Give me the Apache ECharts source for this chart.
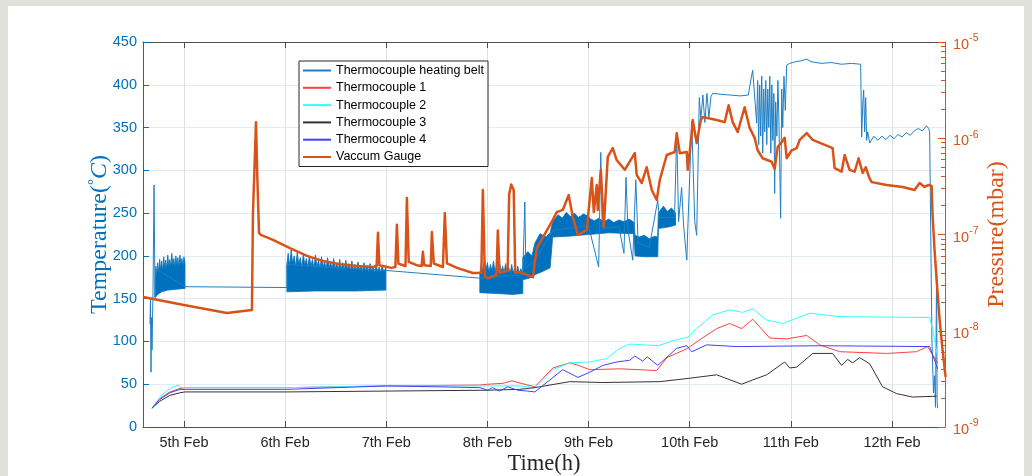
<!DOCTYPE html>
<html><head><meta charset="utf-8">
<script src="https://cdn.jsdelivr.net/npm/echarts@6/dist/echarts.min.js"></script>
<style>
html,body{margin:0;padding:0;background:#e1e1dc;width:1032px;height:476px;overflow:hidden}
#paper{position:absolute;left:8px;top:6px;width:1016px;height:470px;background:#fff}
#chart{position:absolute;left:0;top:0;width:1032px;height:476px}
</style></head><body><div id="paper"></div><div id="chart"></div>
<script>
// ---- tick labels ----
const dayTicks = [5, 6, 7, 8, 9, 10, 11, 12];
const dayLabels = ['5th Feb', '6th Feb', '7th Feb', '8th Feb', '9th Feb', '10th Feb', '11th Feb', '12th Feb'];
const seriesNames = ['Thermocouple heating belt', 'Thermocouple 1', 'Thermocouple 2', 'Thermocouple 3', 'Thermocouple 4', 'Vaccum Gauge'];

// ---- Thermocouple heating belt (day of Feb, °C) ----
const beltLine = [[4.664,120],[4.669,150],[4.674,64],[4.679,128],[4.684,90],[4.694,158],[4.704,283],[4.714,152],[4.72,185],[5.01,164],[6.018,163],[6.018,190],[6.996,183],[7.925,174],[8.35,178],[8.37,263],[8.38,185],[8.50,200],[8.65,230],[9.00,235],[9.10,187],[9.121,321],[9.135,232],[9.30,234],[9.35,203],[9.37,292],[9.39,230],[9.437,195],[9.467,289],[9.49,215],[9.60,210],[9.684,265],[9.70,245],[9.85,245],[9.872,344],[9.89,240],[9.92,280],[9.94,235],[9.971,195],[9.981,232],[10.02,357],[10.05,240],[10.069,224],[10.095,385],[10.11,360],[10.13,388],[10.15,356],[10.17,390],[10.19,362],[10.21,386],[10.227,390],[10.30,389],[10.40,388],[10.50,387],[10.58,388],[10.593,398],[10.623,417],[10.642,419],[10.662,355],[10.672,405],[10.682,330],[10.692,400],[10.702,340],[10.712,410],[10.722,320],[10.732,395],[10.742,345],[10.752,405],[10.762,330],[10.772,395],[10.782,350],[10.792,410],[10.802,320],[10.812,400],[10.822,335],[10.832,390],[10.840,273],[10.850,380],[10.862,340],[10.872,405],[10.882,360],[10.899,244],[10.910,395],[10.920,350],[10.932,410],[10.945,370],[10.959,423],[10.988,425],[11.05,427],[11.10,428],[11.157,430],[11.20,427],[11.30,425],[11.40,426],[11.50,424],[11.60,425],[11.69,424],[11.700,339],[11.712,380],[11.720,394],[11.730,345],[11.740,385],[11.749,335],[11.76,345],[11.78,332],[11.82,340],[11.86,335],[11.90,340],[11.94,336],[11.98,341],[12.02,337],[12.06,342],[12.10,339],[12.14,344],[12.18,341],[12.22,346],[12.26,349],[12.30,346],[12.34,352],[12.362,349],[12.372,345],[12.395,100],[12.41,40],[12.42,60],[12.43,23],[12.441,180],[12.446,30],[12.45,22]];
// dense noisy blocks of the heating-belt trace: upper and lower edges
const beltBandATop = [[4.714,170],[4.722,188],[4.730,176],[4.740,192],[4.750,180],[4.760,196],[4.770,183],[4.780,194],[4.790,182],[4.800,199],[4.810,185],[4.820,195],[4.830,184],[4.840,201],[4.850,187],[4.860,196],[4.870,186],[4.880,203],[4.890,188],[4.900,197],[4.910,186],[4.920,200],[4.930,189],[4.940,198],[4.950,187],[4.960,201],[4.970,190],[4.980,197],[4.990,188],[5.000,199],[5.010,192]];
const beltBandABot = [[4.714,151],[4.74,155],[4.78,158],[4.84,160],[4.92,161],[5.01,162]];
const beltBandBTop = [[6.018,190],[6.03,203],[6.045,188],[6.06,207],[6.075,191],[6.09,200],[6.105,187],[6.12,204],[6.135,190],[6.15,198],[6.165,186],[6.18,202],[6.195,189],[6.21,197],[6.225,186],[6.24,200],[6.255,188],[6.27,196],[6.285,185],[6.30,201],[6.315,187],[6.33,195],[6.345,185],[6.36,199],[6.375,186],[6.39,194],[6.405,184],[6.42,198],[6.435,186],[6.45,193],[6.465,184],[6.48,197],[6.495,185],[6.51,192],[6.525,183],[6.54,196],[6.555,184],[6.57,192],[6.585,183],[6.60,195],[6.615,184],[6.63,191],[6.645,182],[6.66,194],[6.675,183],[6.69,190],[6.705,182],[6.72,193],[6.735,183],[6.75,189],[6.765,181],[6.78,192],[6.795,182],[6.81,189],[6.825,181],[6.84,191],[6.855,182],[6.87,188],[6.885,180],[6.90,190],[6.915,181],[6.93,187],[6.945,180],[6.96,189],[6.975,181],[6.996,186]];
const beltBandBBot = [[6.018,158],[6.3,159],[6.7,159],[6.996,160]];
const beltBandCTop = [[7.925,180],[7.94,190],[7.955,182],[7.97,196],[7.985,183],[8.00,192],[8.015,181],[8.03,190],[8.045,182],[8.06,194],[8.075,181],[8.09,189],[8.105,180],[8.12,192],[8.135,181],[8.15,188],[8.165,180],[8.18,191],[8.195,181],[8.21,187],[8.225,179],[8.24,190],[8.255,180],[8.27,186],[8.285,178],[8.30,188],[8.315,179],[8.33,185],[8.35,180]];
const beltBandCBot = [[7.925,157],[8.1,156],[8.25,155],[8.35,156]];
const beltBandDTop = [[8.35,198],[8.40,205],[8.44,200],[8.47,215],[8.52,226],[8.58,222],[8.62,227],[8.645,240],[8.70,248],[8.74,244],[8.78,251],[8.82,246],[8.86,250],[8.90,245],[8.95,249],[9.00,246],[9.02,243],[9.06,241],[9.10,244],[9.15,240],[9.20,243],[9.25,239],[9.30,242],[9.35,240],[9.40,243],[9.45,239],[9.46,224],[9.50,222],[9.55,224],[9.60,220],[9.65,223],[9.684,222],[9.69,250],[9.74,258],[9.78,252],[9.82,256],[9.86,250]];
const beltBandDBot = [[8.35,172],[8.44,175],[8.47,178],[8.55,182],[8.62,186],[8.645,222],[8.80,223],[9.00,225],[9.20,227],[9.45,226],[9.46,200],[9.55,199],[9.684,199],[9.69,232],[9.80,234],[9.86,236]];

// ---- thermocouples (day of Feb, °C) ----
const tc1 = [[4.684,22],[4.76,33],[4.86,41],[4.961,45],[5.01,46],[6.018,46],[6.996,48],[7.925,49],[8.004,50],[8.15,51],[8.241,54],[8.30,52],[8.469,47],[8.647,69],[8.814,75],[8.90,72],[9.012,67],[9.308,68],[9.674,66],[9.773,81],[9.981,92],[10.099,102],[10.267,115],[10.395,121],[10.514,115],[10.623,126],[10.791,104],[10.959,103],[11.157,107],[11.285,96],[11.483,88],[11.947,86],[12.243,88],[12.352,94],[12.451,75]];
const tc2 = [[4.684,22],[4.76,35],[4.86,45],[4.941,49],[4.961,46],[5.01,46],[6.018,46],[6.996,48],[8.004,48],[8.32,48],[8.469,46],[8.647,67],[8.814,75],[9.012,76],[9.180,80],[9.308,92],[9.407,97],[9.684,95],[9.872,102],[9.981,105],[10.069,115],[10.227,131],[10.395,137],[10.524,134],[10.623,138],[10.761,125],[10.919,121],[11.186,133],[11.483,129],[12.372,128],[12.40,115],[12.451,82]];
const tc3 = [[4.684,22],[4.76,30],[4.86,37],[4.961,40],[5.01,41],[6.018,41],[6.996,42],[8.004,43],[8.32,44],[8.469,46],[8.814,53],[9.141,52],[9.704,53],[10.000,57],[10.267,61],[10.514,50],[10.623,55],[10.761,61],[10.939,76],[10.988,69],[11.058,70],[11.216,86],[11.413,86],[11.502,72],[11.562,79],[11.611,75],[11.680,81],[11.779,74],[11.907,47],[12.046,39],[12.204,35],[12.441,36]];
const tc4 = [[4.684,22],[4.76,32],[4.86,40],[4.961,44],[5.01,44],[6.018,44],[6.996,48],[7.50,47],[7.925,46],[8.004,43],[8.05,46],[8.12,42],[8.20,47],[8.30,43],[8.40,42],[8.469,41],[8.745,67],[8.894,58],[9.012,64],[9.141,72],[9.279,76],[9.407,78],[9.457,83],[9.535,77],[9.58,82],[9.684,72],[9.872,92],[9.971,95],[10.020,88],[10.168,96],[10.465,94],[11.285,95],[12.372,94],[12.451,68]];

// ---- vacuum gauge (day of Feb, mbar) ----
const gauge = [[4.595,2.24e-8],[5.00,1.85e-8],[5.425,1.53e-8],[5.672,1.64e-8],[5.682,1.67e-7],[5.700,6.0e-7],[5.712,1.47e-6],[5.725,4.0e-7],[5.742,1.04e-7],[5.76,9.9e-8],[5.88,8.8e-8],[6.048,7.2e-8],[6.216,6.0e-8],[6.374,5.3e-8],[6.542,4.9e-8],[6.710,4.7e-8],[6.868,4.6e-8],[6.905,4.7e-8],[6.918,1.04e-7],[6.932,4.8e-8],[7.05,4.5e-8],[7.09,4.6e-8],[7.105,1.26e-7],[7.12,5.0e-8],[7.19,4.7e-8],[7.204,2.4e-7],[7.222,5.2e-8],[7.30,4.8e-8],[7.35,4.7e-8],[7.362,6.6e-8],[7.375,4.8e-8],[7.44,4.7e-8],[7.451,1.06e-7],[7.47,5.0e-8],[7.56,4.6e-8],[7.579,1.67e-7],[7.60,5.0e-8],[7.70,4.5e-8],[7.856,3.98e-8],[7.94,4.0e-8],[7.955,2.9e-7],[7.975,3.7e-8],[8.004,3.5e-8],[8.09,3.8e-8],[8.103,1.1e-7],[8.12,4.0e-8],[8.20,4.2e-8],[8.215,2.6e-7],[8.235,3.3e-7],[8.26,2.9e-7],[8.275,4.0e-8],[8.32,4.08e-8],[8.449,3.6e-8],[8.488,7.2e-8],[8.647,1.42e-7],[8.686,1.71e-7],[8.745,1.8e-7],[8.804,2.57e-7],[8.844,1.52e-7],[8.894,9.9e-8],[8.982,1.11e-7],[9.032,3.86e-7],[9.052,1.71e-7],[9.081,3.27e-7],[9.091,1.8e-7],[9.121,4.7e-7],[9.151,1.2e-7],[9.190,6.4e-7],[9.239,7.9e-7],[9.279,5.9e-7],[9.358,4.7e-7],[9.457,7.0e-7],[9.476,4.15e-7],[9.526,3.43e-7],[9.575,5.0e-7],[9.625,2.9e-7],[9.674,2.28e-7],[9.704,3.68e-7],[9.773,6.7e-7],[9.852,7.2e-7],[9.872,1.13e-6],[9.902,7.0e-7],[9.971,7.2e-7],[9.981,4.7e-7],[10.02,1.13e-6],[10.03,1.55e-6],[10.069,8.9e-7],[10.11,1.55e-6],[10.129,1.66e-6],[10.267,1.55e-6],[10.346,1.47e-6],[10.385,2.2e-6],[10.425,1.47e-6],[10.474,1.16e-6],[10.543,2.1e-6],[10.593,1.28e-6],[10.642,1.01e-6],[10.672,7.5e-7],[10.721,6.2e-7],[10.810,5.7e-7],[10.840,4.8e-7],[10.870,8.1e-7],[10.909,9.1e-7],[10.939,1.01e-6],[10.959,6.2e-7],[11.008,7.5e-7],[11.058,7.9e-7],[11.087,9.6e-7],[11.157,1.13e-6],[11.216,9.6e-7],[11.413,7.9e-7],[11.433,4.9e-7],[11.502,4.5e-7],[11.532,6.7e-7],[11.581,4.7e-7],[11.631,4.5e-7],[11.670,6.2e-7],[11.710,4.35e-7],[11.740,5.0e-7],[11.779,3.8e-7],[11.80,3.5e-7],[11.947,3.27e-7],[12.105,3.12e-7],[12.223,2.9e-7],[12.273,3.43e-7],[12.322,3.12e-7],[12.362,3.27e-7],[12.392,3.2e-7],[12.401,1.6e-7],[12.421,6.9e-8],[12.441,3.4e-8],[12.471,1.29e-8],[12.500,6.3e-9],[12.530,3.3e-9]];

const bands = [
  {top: beltBandATop, bot: beltBandABot},
  {top: beltBandBTop, bot: beltBandBBot},
  {top: beltBandCTop, bot: beltBandCBot},
  {top: beltBandDTop, bot: beltBandDBot}
];

const BLUE = '#0072BD', ORANGE = '#D95319', AXC = '#4d4d4d';
const SANS = 'Liberation Sans, Arial, sans-serif';
const SERIF = 'Liberation Serif, Times New Roman, serif';

// minor tick positions on the log axis (log10 of k*10^n)
const minorLog = [];
for (let n = -9; n < -5; n++) for (let k = 2; k <= 9; k++) minorLog.push(n + Math.log10(k));

const noSym = {opacity: 0};
const chart = echarts.init(document.getElementById('chart'), null, {renderer: 'canvas'});
chart.setOption({
  animation: false,
  backgroundColor: 'transparent',
  grid: {left: 143, right: 87, top: 42, bottom: 49, containLabel: false, outerBoundsMode: 'none'},
  legend: {
    data: seriesNames, orient: 'vertical', left: 299, top: 61,
    itemWidth: 28, itemHeight: 12, itemGap: 4.3, padding: [3, 4, 3, 3],
    itemStyle: {opacity: 0},
    backgroundColor: '#fff', borderColor: '#262626', borderWidth: 1,
    textStyle: {fontFamily: SANS, fontSize: 12.5, color: '#000'}
  },
  xAxis: [{
    type: 'value', min: 4.595, max: 12.524, position: 'bottom',
    name: 'Time(h)', nameLocation: 'middle', nameGap: 26, nameMoveOverlap: false,
    nameTextStyle: {fontFamily: SERIF, fontSize: 22.5, color: '#262626'},
    axisLine: {show: true, lineStyle: {color: AXC, width: 1}},
    axisTick: {show: true, inside: true, length: 6, customValues: dayTicks, lineStyle: {color: AXC}},
    axisLabel: {customValues: dayTicks, margin: 8, fontFamily: SANS, fontSize: 14.5, color: '#262626',
      formatter: v => dayLabels[dayTicks.indexOf(Math.round(v))]},
    splitLine: {show: true, lineStyle: {color: '#e1e1e1', width: 1}}
  }, {
    type: 'value', min: 4.595, max: 12.524, position: 'top',
    axisLine: {show: true, lineStyle: {color: AXC, width: 1}},
    axisTick: {show: true, inside: true, length: 6, customValues: dayTicks, lineStyle: {color: AXC}},
    axisLabel: {show: false}, splitLine: {show: false}
  }],
  yAxis: [{
    type: 'value', min: 0, max: 450, interval: 50, position: 'left',
    name: '{t|Temperature(}{d|°}{c|C}{t|)}', nameLocation: 'middle', nameGap: 31, nameRotate: 90, nameMoveOverlap: false,
    nameTextStyle: {color: BLUE, rich: {
      t: {fontFamily: SERIF, fontSize: 24, color: BLUE},
      d: {fontFamily: SERIF, fontSize: 15, color: BLUE, verticalAlign: 'top', padding: [0, 0, 10, 0]},
      c: {fontFamily: SERIF, fontSize: 24, fontStyle: 'italic', color: BLUE}}},
    axisLine: {show: true, lineStyle: {color: BLUE, width: 1}},
    axisTick: {show: true, inside: true, length: 6, lineStyle: {color: BLUE}},
    axisLabel: {margin: 6, fontFamily: SANS, fontSize: 14.5, color: BLUE},
    splitLine: {show: true, lineStyle: {color: '#e2ecf5', width: 1}}
  }, {
    type: 'log', logBase: 10, min: 1e-9, max: 1e-5, splitNumber: 4, position: 'right',
    name: 'Pressure(mbar)', nameLocation: 'middle', nameGap: 40, nameRotate: 90, nameMoveOverlap: false,
    nameTextStyle: {fontFamily: SERIF, fontSize: 24, color: ORANGE},
    axisLine: {show: true, lineStyle: {color: ORANGE, width: 1}},
    axisTick: {show: true, inside: true, length: 7, lineStyle: {color: ORANGE}},
    axisLabel: {margin: 8, color: ORANGE,
      formatter: v => '{b|10}{s|' + Math.round(Math.log10(v)) + '}',
      rich: {
        b: {fontFamily: SANS, fontSize: 14.5, color: ORANGE, padding: [6, 0, 0, 0]},
        s: {fontFamily: SANS, fontSize: 10.5, color: ORANGE, padding: [0, 0, 7, 0]}
      }},
    splitLine: {show: false}
  }, {
    type: 'value', min: -9, max: -5, position: 'right',
    axisLine: {show: false}, axisLabel: {show: false}, splitLine: {show: false},
    axisTick: {show: true, inside: true, length: 4, customValues: minorLog, lineStyle: {color: ORANGE}}
  }],
  series: [
    {type: 'custom', name: 'beltBands', xAxisIndex: 0, yAxisIndex: 0, z: 2, silent: true,
      data: bands.map((b, i) => [b.top[0][0], b.top[0][1], i]),
      encode: {x: 0, y: 1},
      renderItem: (params, api) => {
        const b = bands[api.value(2)];
        const pts = b.top.map(p => api.coord(p)).concat(b.bot.slice().reverse().map(p => api.coord(p)));
        return {type: 'polygon', shape: {points: pts}, style: {fill: BLUE, stroke: BLUE, lineWidth: 0.8}};
      }},
    {type: 'line', name: seriesNames[0], data: beltLine, xAxisIndex: 0, yAxisIndex: 0, z: 2,
      symbol: 'none', itemStyle: noSym, color: '#1f7fc4', lineStyle: {width: 1, color: '#1f7fc4'}},
    {type: 'line', name: seriesNames[1], data: tc1, symbol: 'none', itemStyle: noSym, z: 3, color: '#ff4040', lineStyle: {width: 1, color: '#ff4040'}},
    {type: 'line', name: seriesNames[2], data: tc2, symbol: 'none', itemStyle: noSym, z: 3, color: '#33ffff', lineStyle: {width: 1, color: '#33ffff'}},
    {type: 'line', name: seriesNames[3], data: tc3, symbol: 'none', itemStyle: noSym, z: 3, color: '#333333', lineStyle: {width: 1, color: '#333333'}},
    {type: 'line', name: seriesNames[4], data: tc4, symbol: 'none', itemStyle: noSym, z: 3, color: '#4040ff', lineStyle: {width: 1, color: '#4040ff'}},
    {type: 'line', name: seriesNames[5], data: gauge, yAxisIndex: 1, symbol: 'none', itemStyle: noSym, z: 4, color: ORANGE,
      lineStyle: {width: 2.5, color: ORANGE, join: 'round'}}
  ]
});
</script></body></html>
